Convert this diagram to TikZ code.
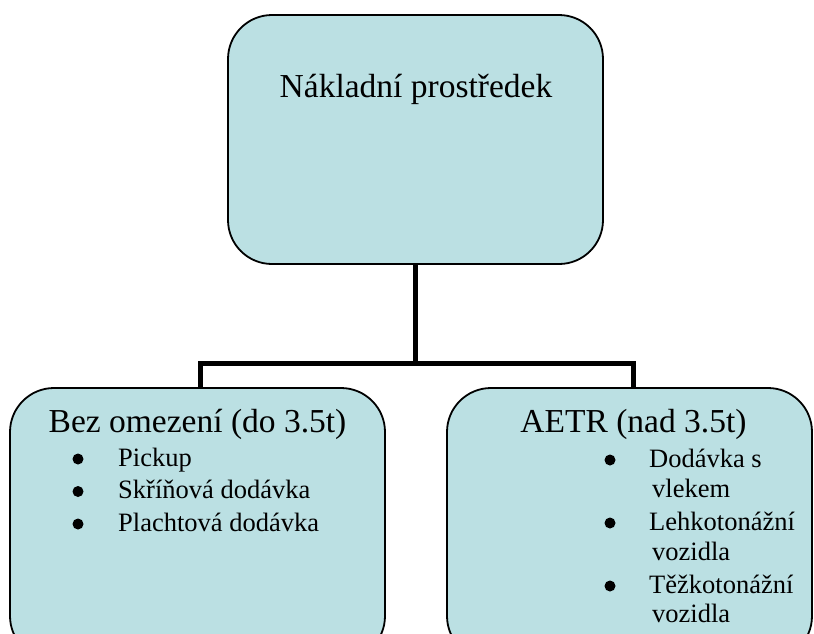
\documentclass[tikz,border=0pt]{standalone}
\usepackage{fontspec}
\setmainfont{Liberation Serif}
\definecolor{boxfill}{RGB}{187,224,227}
\pgfdeclarelayer{background}
\pgfsetlayers{background,main}
\tikzset{
  box/.style={draw=black, line width=1.8pt, fill=boxfill, rounded corners=44pt, inner sep=0pt},
  conn/.style={draw=black, line width=5pt, line join=miter},
  head/.style={inner sep=0pt, anchor=base, font=\fontsize{33.5}{38}\selectfont},
  item/.style={inner sep=0pt, anchor=base west, font=\fontsize{26.5}{31}\selectfont},
  bul/.style={circle, fill=black, inner sep=0pt, minimum size=11pt},
}
\begin{document}
\begin{tikzpicture}[x=1pt,y=-1pt]
\useasboundingbox (0,0) rectangle (814,633);
\clip (0,0) rectangle (814,633);
\node[box, minimum width=375pt, minimum height=249pt] (top) at (415.5,139.5) {};
\node[box, minimum width=375pt, minimum height=272pt] (left) at (197.5,524) {};
\node[box, minimum width=365pt, minimum height=272pt] (right) at (629.5,524) {};
\coordinate (bar) at (415.5,363);
\begin{pgfonlayer}{background}
\draw[conn] (top.south) -- (top.south |- bar);
\draw[conn] ([xshift=2.5pt]left.north) -- ([xshift=2.5pt]left.north |- bar) -- ([xshift=3.5pt]right.north |- bar) -- ([xshift=3.5pt]right.north);
\end{pgfonlayer}
\node[head] (t1) at (416,97) {Nákladní prostředek};
\node[head] (t2) at (197.5,432) {Bez omezení (do 3.5t)};
\node[head] (t3) at (633.5,432) {AETR (nad 3.5t)};
\node[bul] (lb1) at (78,459) {};
\node[bul] (lb2) at (78,491.5) {};
\node[bul] (lb3) at (78,524) {};
\node[item] (li1) at (118,466) {Pickup};
\node[item] (li2) at (118,498.5) {Skříňová dodávka};
\node[item] (li3) at (118,531) {Plachtová dodávka};
\node[bul] (rb1) at (610,460) {};
\node[bul] (rb2) at (610,523) {};
\node[bul] (rb3) at (610,586) {};
\node[item] (ri1) at (649,467) {Dodávka s};
\node[item] (ri1b) at (652,497) {vlekem};
\node[item] (ri2) at (649,530) {Lehkotonážní};
\node[item] (ri2b) at (652,560) {vozidla};
\node[item] (ri3) at (649,593) {Těžkotonážní};
\node[item] (ri3b) at (652,622) {vozidla};
\end{tikzpicture}
\end{document}
